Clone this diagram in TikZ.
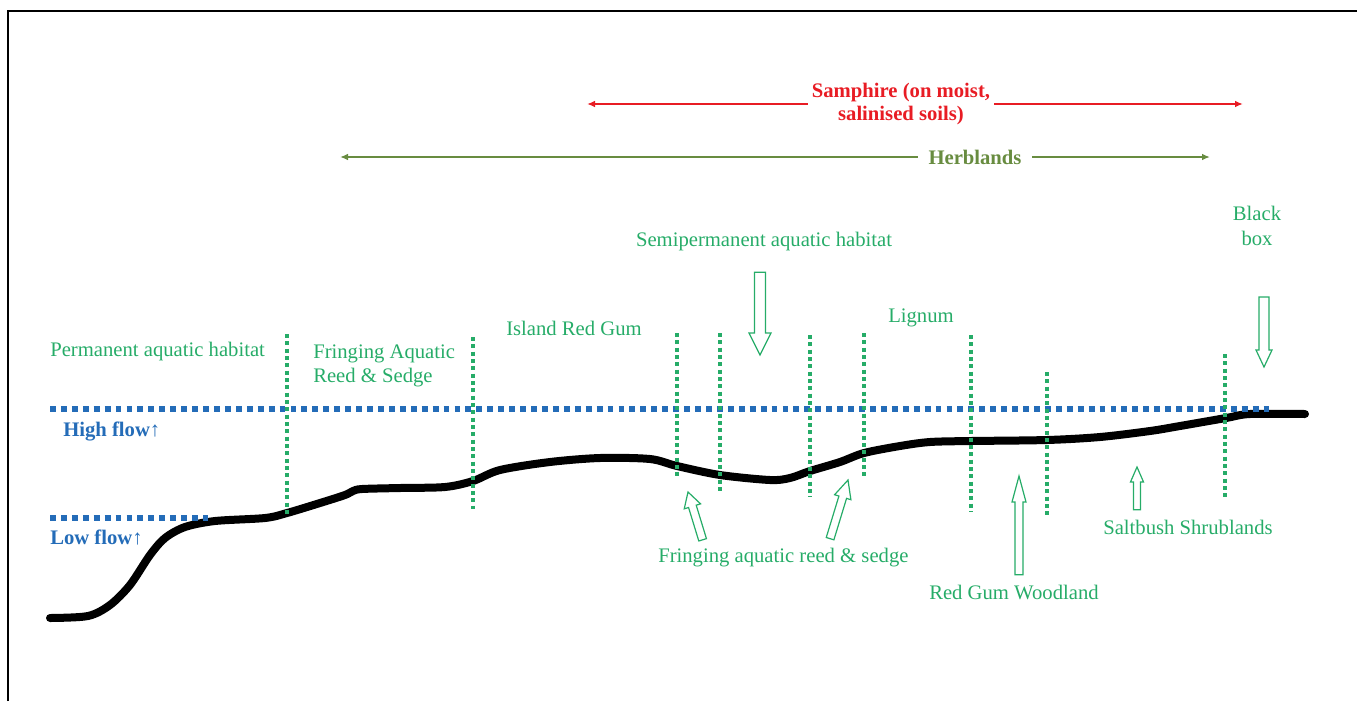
\documentclass[tikz,border=0pt]{standalone}
\usepackage{fontspec}
\setmainfont{Liberation Serif}
\usetikzlibrary{shapes,arrows}
\usetikzlibrary{arrows.meta}
\definecolor{samphirered}{RGB}{232,28,36}
\definecolor{herbolive}{RGB}{104,140,64}
\definecolor{habgreen}{RGB}{38,172,104}
\definecolor{flowblue}{RGB}{36,108,184}
\tikzset{
  habitat/.style={text=habgreen, inner sep=0pt, font=\fontsize{15.5}{18.5}\selectfont},
  flowlabel/.style={text=flowblue, inner sep=0pt, font=\fontsize{15.5}{18.5}\selectfont\bfseries},
  rangelabel/.style={inner ysep=0pt, font=\fontsize{15.5}{17.5}\selectfont\bfseries, align=center},
  divider/.style={draw=habgreen, line width=3.2pt, dash pattern=on 3pt off 2.5pt},
  flowline/.style={draw=flowblue, line width=3.8pt, dash pattern=on 4.4pt off 3.8pt},
  ground/.style={line width=6pt, line cap=round},
  pointer/.style={draw=habgreen, line width=0.9pt, fill=white, line join=miter},
}
\newcommand{\zoneline}[3] {\draw[divider] (#1,#2) -- (#1,#3);}
% tip, direction, length, shaft half width, head half width, head length
\newcommand{\habpointer}[6] {\draw[pointer, shift={(#1)}, rotate=#2] (0pt,0pt) -- (-#6,#5) -- (-#6,#4) -- (-#3,#4) -- (-#3,-#4) -- (-#6,-#4) -- (-#6,-#5) -- cycle;}
\newcommand{\rangearrow}[3] {\draw [#3, line width=1.3pt, -{Latex[length=6pt,width=5pt]}] (#1) -- (#2);}

\begin{document}
\begin{tikzpicture}[x=0.75pt, y=-0.75pt]
\useasboundingbox (0,0) rectangle (1357,701);
\draw[line width=1.9pt] (8,701) -- (8,11) -- (1357,11);

% ranges across the floodplain
\node[rangelabel, text=samphirered, inner xsep=3pt] at (901,104) (samphire) {Samphire (on moist,\\salinised soils)};
\coordinate (samL) at (587,104);
\coordinate (samR) at (1243,104);
\rangearrow{samphire}{samL}{samphirered};
\rangearrow{samphire}{samR}{samphirered};

\node[rangelabel, text=herbolive, inner xsep=8pt] at (975,157) (herb) {Herblands};
\coordinate (herbL) at (340,157);
\coordinate (herbR) at (1210,157);
\rangearrow{herb}{herbL}{herbolive};
\rangearrow{herb}{herbR}{herbolive};

% river profile
\draw[ground] plot[smooth, tension=0.5] coordinates {(50,618) (88,616) (110,605) (130,585) (150,555) (165,538) (185,527) (215,521) (265,518) (287,513) (320,503) (345,495) (353,491) (362,489) (400,488) (445,487) (473,481) (500,470) (550,462) (600,458) (650,459) (677,466) (720,475) (770,480) (790,478) (810,471) (840,462) (864,453) (900,446) (930,442) (971,441) (1047,440) (1100,437) (1150,431) (1180,426) (1226,418) (1250,414) (1305,414)};

\draw[flowline] (50,409) -- (1270,409);
\draw[flowline] (50,518) -- (208,518);
\node[flowlabel, anchor=west] at (63,431) (high) {High flow\textmd{↑}};
\node[flowlabel, anchor=west] at (50,538) (low) {Low flow\textmd{↑}};

\zoneline{287}{334}{514}
\zoneline{473}{337}{509}
\zoneline{677}{333}{477}
\zoneline{720}{333}{493}
\zoneline{810}{335}{497}
\zoneline{864}{333}{478}
\zoneline{971}{335}{512}
\zoneline{1047}{372}{515}
\zoneline{1225}{354}{497}

\node[habitat, anchor=west] at (50,352) (perm) {Permanent aquatic habitat};
\node[habitat, anchor=west, align=left] at (313,366) (fringeA) {Fringing Aquatic\\Reed \& Sedge};
\node[habitat, anchor=west] at (506,328) (island) {Island Red Gum};
\node[habitat] at (764,242) (semi) {Semipermanent aquatic habitat};
\node[habitat, anchor=west] at (888,318) (lignum) {Lignum};
\node[habitat, align=center] at (1257,226) (blackbox) {Black\\box};
\node[habitat, anchor=west] at (658,558) (fringeB) {Fringing aquatic reed \& sedge};
\node[habitat, anchor=west] at (929,592) (redgum) {Red Gum Woodland};
\node[habitat, anchor=west] at (1103,527) (saltbush) {Saltbush Shrublands};

\habpointer{760,355}{-90}{62pt}{4.1pt}{8.25pt}{16.5pt}
\habpointer{1264,367}{-90}{52.5pt}{3.75pt}{6pt}{12.75pt}
\habpointer{1019,476}{90}{74pt}{3pt}{5.25pt}{19.5pt}
\habpointer{1137,467}{90}{32pt}{2.6pt}{4.9pt}{11.25pt}
\habpointer{688,492}{107}{37.5pt}{3pt}{6.4pt}{11.25pt}
\habpointer{848,480}{73}{46pt}{3pt}{6.4pt}{13.5pt}
\end{tikzpicture}
\end{document}
